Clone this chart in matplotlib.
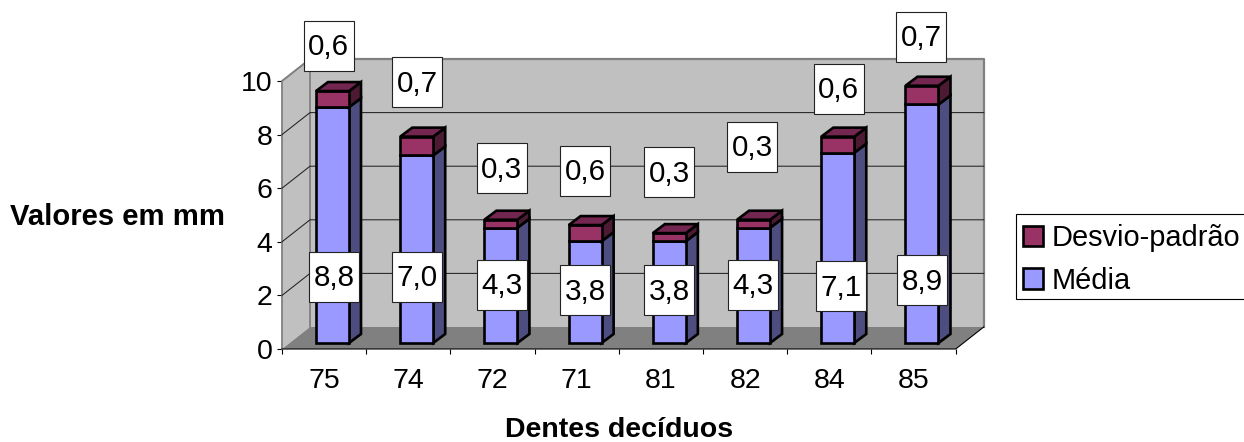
import matplotlib
matplotlib.use("Agg")
import matplotlib.pyplot as plt
from matplotlib.patches import Polygon, Rectangle, Patch
from matplotlib.transforms import Affine2D

plt.rcParams['font.family'] = ['Liberation Sans', 'DejaVu Sans']

categories = ['75', '74', '72', '71', '81', '82', '84', '85']
media = [8.8, 7.0, 4.3, 3.8, 3.8, 4.3, 7.1, 8.9]
desvio = [0.6, 0.7, 0.3, 0.6, 0.3, 0.3, 0.6, 0.7]
media_labels = ['8,8', '7,0', '4,3', '3,8', '3,8', '4,3', '7,1', '8,9']
desvio_labels = ['0,6', '0,7', '0,3', '0,6', '0,3', '0,3', '0,6', '0,7']

# hand-placed label box centres (pixels)
media_pos = [(334, 277), (417, 277), (501.5, 285), (585, 290), (669, 290), (753, 285), (841, 286), (922, 280)]
desvio_pos = [(328.5, 45.7), (417, 82), (501.5, 168), (585, 171), (669, 172), (752, 147), (838.5, 89), (921, 37)]

W, H = 1244, 442
fig = plt.figure(figsize=(W / 100, H / 100), dpi=100, facecolor='white')
L, R, T, B = 282, 955.7, 81, 349
ax = fig.add_axes([L / W, (H - B) / H, (R - L) / W, (B - T) / H])
ax.set_xlim(0, len(categories))
ax.set_ylim(0, 10)
ax.patch.set_visible(False)
for s in ax.spines.values():
    s.set_visible(False)

px = (R - L) / len(categories)   # pixels per category
py = (B - T) / 10                # pixels per unit
DX, DY = 28 / px, 22 / py        # chart depth

WALL, FLOOR, EDGE = '#C0C0C0', '#808080', '#808080'
pix = Affine2D().scale(1, -1).translate(0, H)


def poly(pts, fc, ec='none', lw=0, z=1):
    ax.add_patch(Polygon(pts, closed=True, fc=fc, ec=ec, lw=lw, zorder=z, clip_on=False, joinstyle='miter'))


n = len(categories)
# walls and floor
poly([(0, 0), (0, 10), (DX, 10 + DY), (DX, DY)], WALL, z=1)
poly([(DX, DY), (DX, 10 + DY), (n + DX, 10 + DY), (n + DX, DY)], WALL, z=1)
ax.plot([0, 0, DX, DX], [0, 10, 10 + DY, DY], color=EDGE, lw=1.3, zorder=2, clip_on=False)
ax.plot([DX, n + DX, n + DX], [10 + DY, 10 + DY, DY], color=EDGE, lw=1.6, zorder=2, clip_on=False)
for v in range(2, 10, 2):
    ax.plot([0, DX, n + DX], [v, v + DY, v + DY], color='#222222', lw=0.75, zorder=2, clip_on=False)
ax.plot([0, DX], [10, 10 + DY], color=EDGE, lw=1.0, zorder=2, clip_on=False)
poly([(0, 0), (n, 0), (n + DX, DY), (DX, DY)], FLOOR, z=3)
ax.plot([0, n, n + DX], [0, 0, DY], color='black', lw=0.8, zorder=3.5, clip_on=False)

# bars
BW = 33 / px
OFF = 34 / px
BDX, BDY = 12 / px, 9 / py
BASE = 6 / py
LW = 1.9
C_M, C_MS = '#9999FF', '#4D4D80'
C_D, C_DS, C_DT = '#993366', '#4D1A33', '#732650'
for i, (m, d) in enumerate(zip(media, desvio)):
    x0 = i + OFF
    x1 = x0 + BW
    y0 = BASE
    y1 = BASE + m
    y2 = y1 + d
    z = 4 + i * 0.1
    poly([(x1, y0), (x1 + BDX, y0 + BDY), (x1 + BDX, y1 + BDY), (x1, y1)], C_MS, 'black', LW, z)
    poly([(x0, y0), (x1, y0), (x1, y1), (x0, y1)], C_M, 'black', LW, z)
    poly([(x1, y1), (x1 + BDX, y1 + BDY), (x1 + BDX, y2 + BDY), (x1, y2)], C_DS, 'black', LW, z)
    poly([(x0, y1), (x1, y1), (x1, y2), (x0, y2)], C_D, 'black', LW, z)
    poly([(x0, y2), (x1, y2), (x1 + BDX, y2 + BDY), (x0 + BDX, y2 + BDY)], C_DT, 'black', LW, z)

# data labels
BOX = 50
for labels, pos in ((media_labels, media_pos), (desvio_labels, desvio_pos)):
    for t, (cx, cy) in zip(labels, pos):
        ax.add_patch(Rectangle((cx - BOX / 2, cy - BOX / 2), BOX, BOX, transform=pix, fc='white',
                               ec='#222222', lw=0.8, zorder=8, clip_on=False))
        ax.text(cx, cy - 1.5, t, transform=pix, ha='center', va='center_baseline', fontsize=21.3,
                color='black', zorder=9)

# axes
ax.set_yticks(range(0, 11, 2))
ax.tick_params(axis='y', length=3.5, width=0.8, pad=3.5, labelsize=20.5)
ax.set_xticks(range(n + 1))
ax.set_xticklabels([])
ax.set_xticks([i + 0.5 for i in range(n)], minor=True)
ax.set_xticklabels(categories, minor=True)
ax.tick_params(axis='x', which='major', length=3.5, width=0.8)
ax.tick_params(axis='x', which='minor', length=0, pad=14, labelsize=20.5)

ax.text(117, 217, 'Valores em mm', transform=pix, fontsize=21.1, fontweight='bold', ha='center',
        va='center', clip_on=False)
ax.text(619, 430, 'Dentes decíduos', transform=pix, fontsize=20.5, fontweight='bold', ha='center',
        va='center', clip_on=False)

# legend: frame runs off the right edge of the picture
ax.add_patch(Rectangle((1016.3, 214.3), 240, 84.4, transform=pix, fc='white', ec='black', lw=0.8,
                       zorder=9.5, clip_on=False))
handles = [Patch(fc=C_D, ec='black', lw=1.9), Patch(fc=C_M, ec='black', lw=1.9)]
leg = ax.legend(handles, ['Desvio-padrão', 'Média'], loc='lower left', bbox_to_anchor=(1016.3, 301),
                bbox_transform=pix, borderaxespad=0, borderpad=0.22, fontsize=20.9, handlelength=0.7,
                handleheight=0.7, handletextpad=0.28, labelspacing=0.5, frameon=False)
leg.set_zorder(10)

fig.savefig('out.png', dpi=100)
